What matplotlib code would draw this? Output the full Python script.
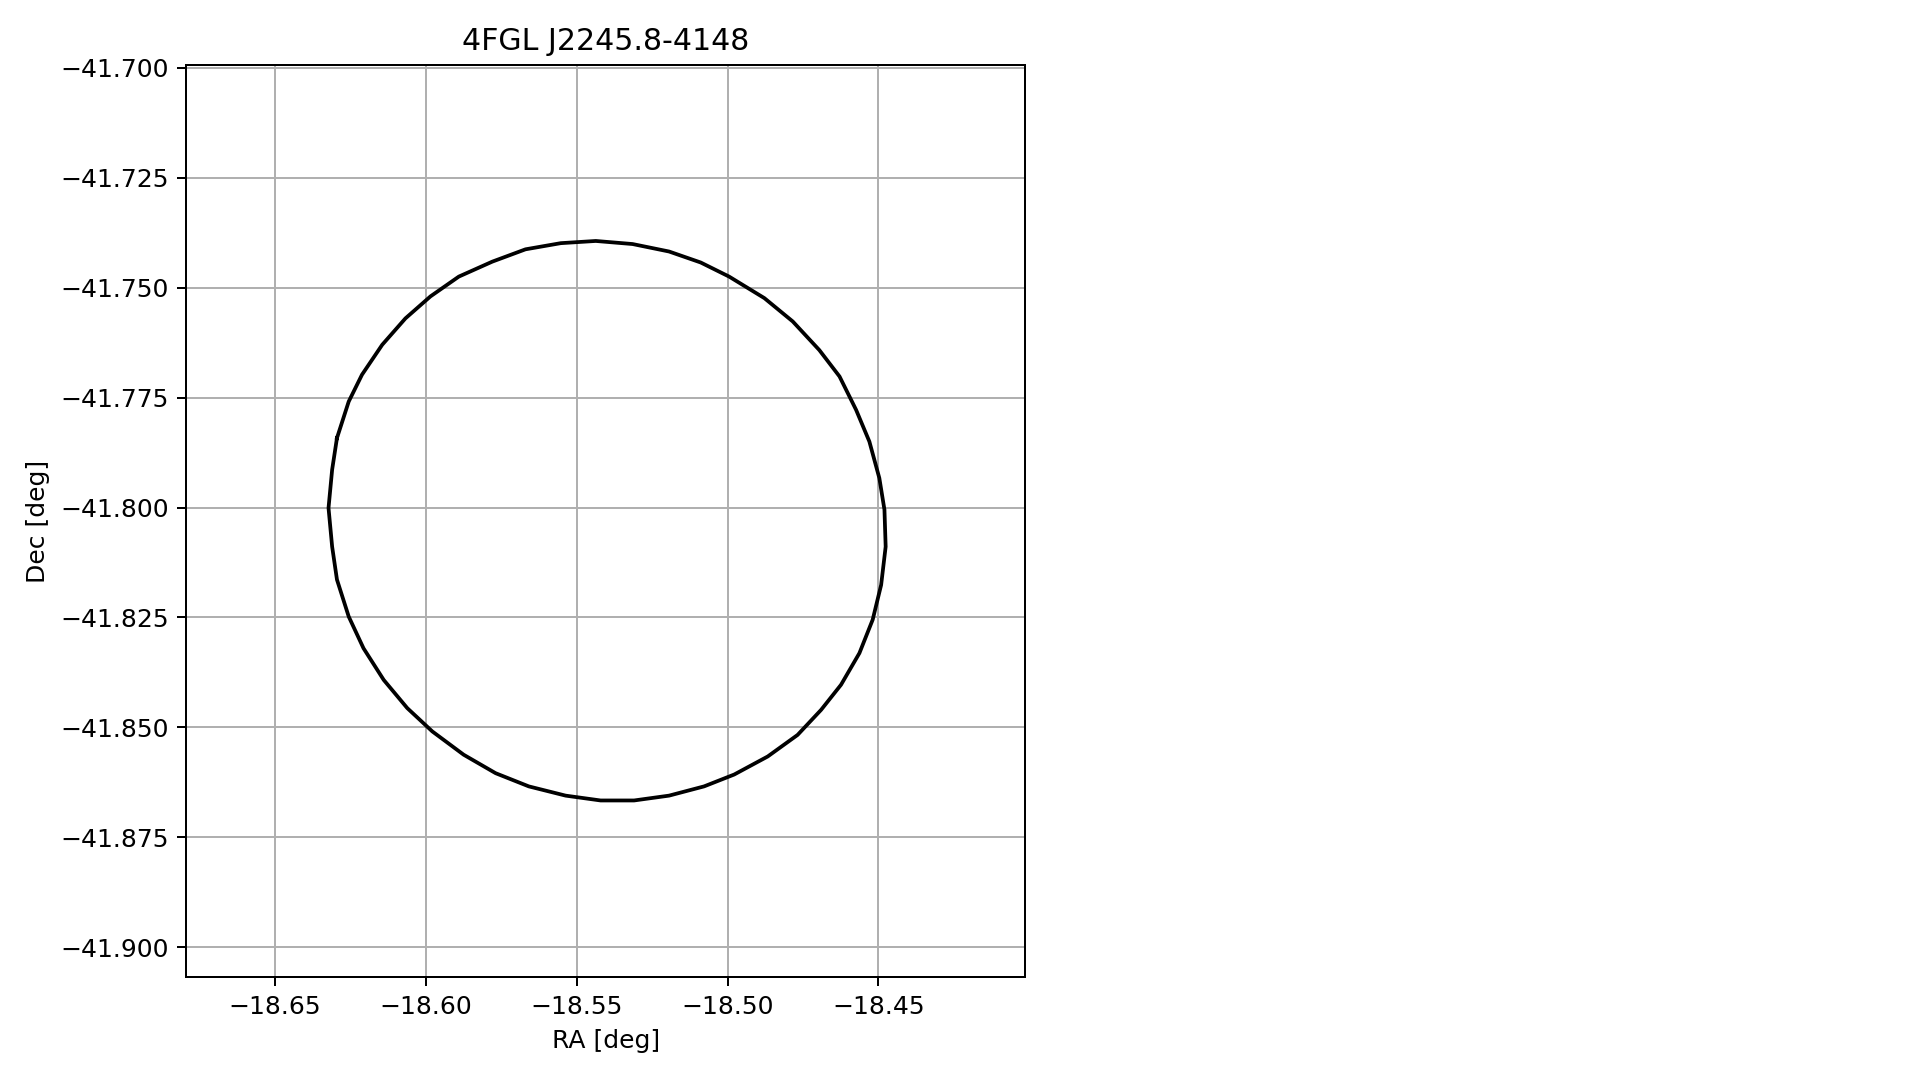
import numpy as np
import matplotlib
matplotlib.use('Agg')
import matplotlib.pyplot as plt
from matplotlib.ticker import MultipleLocator

source_name = '4FGL J2245.8-4148'

# error ellipse outline (deg)
ra_deg = [-18.6295, -18.6256, -18.6212, -18.6145, -18.6068, -18.5985, -18.5891,
          -18.5780, -18.5670, -18.5553, -18.5437, -18.5315, -18.5194, -18.5089,
          -18.4995, -18.4878, -18.4784, -18.4696, -18.4629, -18.4574, -18.4530,
          -18.4497, -18.4480, -18.4476, -18.4491, -18.4519, -18.4563, -18.4624,
          -18.4690, -18.4768, -18.4867, -18.4978, -18.5078, -18.5194, -18.5310,
          -18.5421, -18.5537, -18.5659, -18.5769, -18.5875, -18.5979, -18.6062,
          -18.6140, -18.6207, -18.6256, -18.6295, -18.6311, -18.6323, -18.6311,
          -18.6295]
dec_deg = [-41.7842, -41.7759, -41.7698, -41.7630, -41.7570, -41.7520, -41.7475,
           -41.7441, -41.7413, -41.7399, -41.7394, -41.7401, -41.7418, -41.7443,
           -41.7475, -41.7524, -41.7577, -41.7642, -41.7702, -41.7778, -41.7850,
           -41.7933, -41.8005, -41.8089, -41.8176, -41.8255, -41.8331, -41.8403,
           -41.8460, -41.8517, -41.8566, -41.8607, -41.8634, -41.8655, -41.8666,
           -41.8666, -41.8655, -41.8634, -41.8604, -41.8562, -41.8509, -41.8456,
           -41.8392, -41.8320, -41.8248, -41.8164, -41.8089, -41.8001, -41.7914,
           -41.7842]

ra_lim = (-18.6795, -18.4013)
dec_lim = (-41.9068, -41.6994)

fig = plt.figure(figsize=(1919 / 180, 1080 / 180), dpi=180)
ax = fig.add_axes([0.0970, 0.0951, 0.4373, 0.8447])

ax.plot(ra_deg, dec_deg, color='black', linewidth=1.5)

ax.set_xlim(ra_lim)
ax.set_ylim(dec_lim)
ax.xaxis.set_major_locator(MultipleLocator(0.05))
ax.yaxis.set_major_locator(MultipleLocator(0.025))
ax.ticklabel_format(useOffset=False)
ax.grid(True)
ax.set_axisbelow(True)

ax.set_title(source_name)
ax.set_xlabel('RA [deg]')
ax.set_ylabel('Dec [deg]')

fig.savefig('out.png', dpi=180)
